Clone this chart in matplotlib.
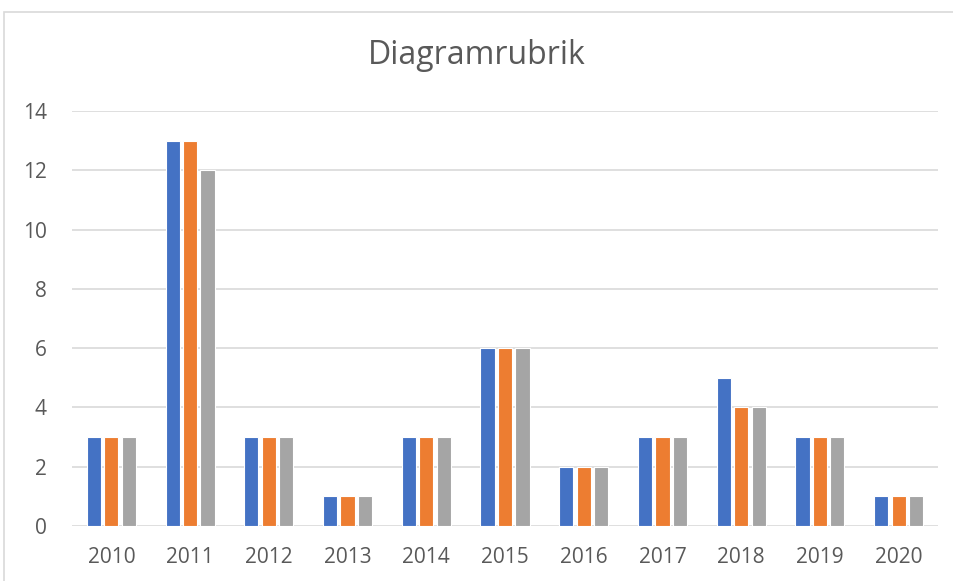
import matplotlib.pyplot as plt
import numpy as np
from matplotlib.patches import Rectangle

# data
years = ["2010", "2011", "2012", "2013", "2014", "2015", "2016", "2017", "2018", "2019", "2020"]
series_1 = [3, 13, 3, 1, 3, 6, 2, 3, 5, 3, 1]
series_2 = [3, 13, 3, 1, 3, 6, 2, 3, 4, 3, 1]
series_3 = [3, 12, 3, 1, 3, 6, 2, 3, 4, 3, 1]
y_ticks = [0, 2, 4, 6, 8, 10, 12, 14]

BLUE = "#4472C4"
ORANGE = "#ED7D31"
GRAY = "#A5A5A5"
TEXT = "#595959"
GRID = "#D9D9D9"

plt.rcParams["font.family"] = ["Open Sans", "DejaVu Sans"]

fig = plt.figure(figsize=(9.54, 5.81), dpi=100)
ax = fig.add_axes([72 / 954, 55 / 581, (938 - 72) / 954, (526 - 111) / 581])

x = np.arange(len(years))
w = 0.18
step = 0.222
for i, (vals, col) in enumerate([(series_1, BLUE), (series_2, ORANGE), (series_3, GRAY)]):
    ax.bar(x + (i - 1) * step, vals, width=w, color=col, edgecolor="white",
           linewidth=0.8, joinstyle="miter", zorder=3)

ax.set_xlim(-0.5, len(years) - 0.5)
ax.set_ylim(0, 14)
ax.set_yticks(y_ticks)
ax.set_xticks(x)
ax.set_xticklabels(years)
ax.yaxis.grid(True, color=GRID, linewidth=1.2, zorder=0)
ax.set_axisbelow(True)
for s in ax.spines.values():
    s.set_visible(False)
ax.tick_params(axis="y", length=0, pad=18, labelsize=15, labelcolor=TEXT)
ax.tick_params(axis="x", length=0, pad=15, labelsize=15, labelcolor=TEXT)

fig.text(0.5, 1 - 56 / 581, "Diagramrubrik", ha="center", va="center",
         fontsize=23, color=TEXT)

# chart frame (only top and left edges are visible in the crop)
fig.patches.append(Rectangle((4 / 954, -0.1), 1.2, 1 - 12 / 581 + 0.1,
                             transform=fig.transFigure, fill=False,
                             edgecolor=GRID, linewidth=1.2))

fig.savefig("out.png", dpi=100)
